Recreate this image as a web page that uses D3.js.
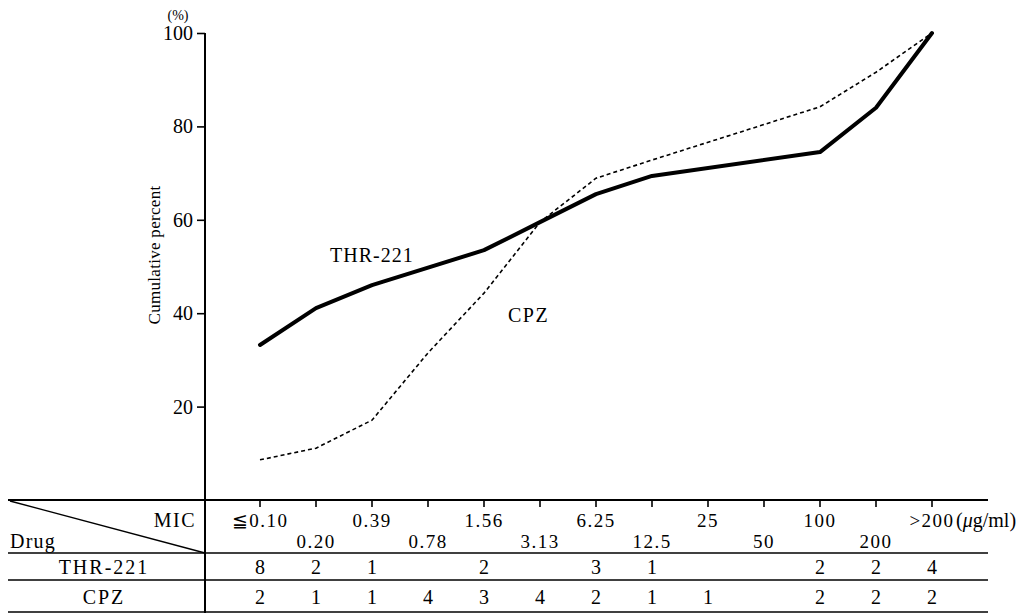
<!DOCTYPE html>
<html>
<head>
<meta charset="utf-8">
<script src="https://cdn.jsdelivr.net/npm/d3@7"></script>
<style>
  body { margin: 0; background: #fff; }
  svg { font-family: "Liberation Serif", "DejaVu Serif", serif; }
</style>
</head>
<body>
<svg width="1033" height="613"></svg>
<script>
// MIC categories (ug/ml)
const mics = ['≦0.10', '0.20', '0.39', '0.78', '1.56', '3.13', '6.25', '12.5', '25', '50', '100', '200', '>200'];
// cumulative percent (null = no vertex there)
const thrPct = [33.2, 41.1, 46.0, null, 53.5, 59.5, 65.5, 69.4, null, null, 74.5, 84.0, 100];
const cpzPct = [8.6, 11.1, 17.1, 31.5, 44.3, 59.5, 68.9, 72.8, null, null, 84.2, 91.6, 100];
// number of strains per MIC
const thrCount = [8, 2, 1, null, 2, null, 3, 1, null, null, 2, 2, 4];
const cpzCount = [2, 1, 1, 4, 3, 4, 2, 1, 1, null, 2, 2, 2];
const yTicks = [20, 40, 60, 80, 100];

const svg = d3.select('svg');

const x = d3.scalePoint().domain(mics).range([260, 932]);
const y = d3.scaleLinear().domain([0, 100]).range([500, 33]);

const axisX = 205;

// y axis
const yAxis = d3.axisLeft(y).tickValues(yTicks).tickSize(8).tickPadding(4);
const gy = svg.append('g').attr('transform', `translate(${axisX},0)`).call(yAxis);
gy.select('.domain').remove();
gy.selectAll('line').attr('stroke', '#000').attr('stroke-width', 1.6);
gy.selectAll('text').attr('font-size', 20).attr('fill', '#000')
  .attr('font-family', '"Liberation Serif", serif');

svg.append('text')
  .attr('x', 178).attr('y', 20)
  .attr('text-anchor', 'middle')
  .attr('font-size', 14)
  .text('(%)');

svg.append('text')
  .attr('transform', 'translate(160,255) rotate(-90)')
  .attr('text-anchor', 'middle')
  .attr('font-size', 17)
  .attr('letter-spacing', 0.3)
  .text('Cumulative percent');

// table rules
const tableL = 8, tableR = 988;
const rules = [500, 553, 580, 612];
svg.selectAll('line.rule')
  .data(rules)
  .enter().append('line')
  .attr('class', 'rule')
  .attr('x1', tableL).attr('x2', tableR)
  .attr('y1', d => d).attr('y2', d => d)
  .attr('stroke', '#000')
  .attr('stroke-width', (d, i) => i === 0 ? 2 : 1.3);

// vertical axis line all the way down
svg.append('line')
  .attr('x1', axisX).attr('x2', axisX)
  .attr('y1', y(100)).attr('y2', 613)
  .attr('stroke', '#000').attr('stroke-width', 2);

// diagonal header split
svg.append('line')
  .attr('x1', tableL + 2).attr('y1', 501)
  .attr('x2', axisX).attr('y2', 553)
  .attr('stroke', '#000').attr('stroke-width', 1.3);

// x ticks
svg.selectAll('line.xtick')
  .data(mics)
  .enter().append('line')
  .attr('class', 'xtick')
  .attr('x1', d => x(d)).attr('x2', d => x(d))
  .attr('y1', 500).attr('y2', 507)
  .attr('stroke', '#000').attr('stroke-width', 1.6);

// MIC labels, staggered in two rows
svg.selectAll('text.mic')
  .data(mics)
  .enter().append('text')
  .attr('class', 'mic')
  .attr('x', d => x(d))
  .attr('y', (d, i) => i % 2 === 0 ? 527 : 548)
  .attr('text-anchor', 'middle')
  .attr('font-size', 19)
  .attr('letter-spacing', 1.5)
  .text(d => d);

svg.append('text')
  .attr('x', 956).attr('y', 527)
  .attr('font-size', 20)
  .html('(<tspan font-style="italic">μ</tspan>g/ml)');

svg.append('text')
  .attr('x', 196).attr('y', 527)
  .attr('text-anchor', 'end')
  .attr('font-size', 20)
  .attr('letter-spacing', 1.5)
  .text('MIC');

svg.append('text')
  .attr('x', 10).attr('y', 548)
  .attr('font-size', 20)
  .attr('letter-spacing', 1.2)
  .text('Drug');

// count rows
const rows = [
  { name: 'THR-221', counts: thrCount, y: 574 },
  { name: 'CPZ', counts: cpzCount, y: 604 }
];
rows.forEach(r => {
  svg.append('text')
    .attr('x', 104).attr('y', r.y)
    .attr('text-anchor', 'middle')
    .attr('font-size', 20)
    .attr('letter-spacing', 2)
    .text(r.name);
  svg.selectAll(null)
    .data(mics.map((m, i) => ({ m, c: r.counts[i] })).filter(d => d.c != null))
    .enter().append('text')
    .attr('x', d => x(d.m))
    .attr('y', r.y)
    .attr('text-anchor', 'middle')
    .attr('font-size', 20)
    .text(d => d.c);
});

// lines
const line = d3.line()
  .x(d => x(d.m))
  .y(d => y(d.v));

const toPts = vals => mics.map((m, i) => ({ m, v: vals[i] })).filter(d => d.v != null);

svg.append('path')
  .datum(toPts(cpzPct))
  .attr('d', line)
  .attr('fill', 'none')
  .attr('stroke', '#000')
  .attr('stroke-width', 1.6)
  .attr('stroke-dasharray', '4,3');

svg.append('path')
  .datum(toPts(thrPct))
  .attr('d', line)
  .attr('fill', 'none')
  .attr('stroke', '#000')
  .attr('stroke-width', 4)
  .attr('stroke-linejoin', 'round')
  .attr('stroke-linecap', 'round');

svg.append('text')
  .attr('x', 330).attr('y', 262)
  .attr('font-size', 20)
  .attr('letter-spacing', 1)
  .text('THR-221');

svg.append('text')
  .attr('x', 508).attr('y', 322)
  .attr('font-size', 20)
  .attr('letter-spacing', 1.5)
  .text('CPZ');
</script>
</body>
</html>
